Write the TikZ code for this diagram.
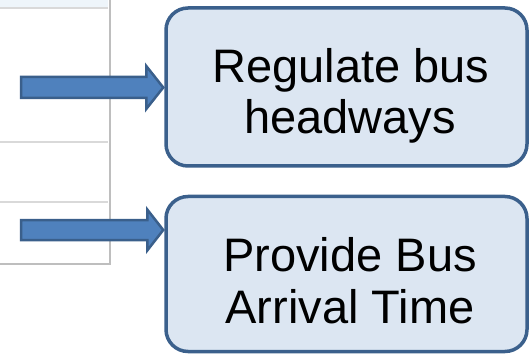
\documentclass[tikz,border=0pt]{standalone}
\usepackage{fontspec}
\setmainfont{Liberation Sans}
\usetikzlibrary{calc}
\definecolor{boxfill}{RGB}{220,230,242}
\definecolor{boxline}{RGB}{59,96,140}
\definecolor{arrfill}{RGB}{79,129,189}
\definecolor{arrline}{RGB}{58,95,139}
\definecolor{gridgrey}{RGB}{217,217,217}
\definecolor{bordergrey}{RGB}{190,190,190}
\definecolor{bandblue}{RGB}{238,245,250}
\tikzset{
  goalbox/.style={draw=boxline, fill=boxfill, line width=3.5pt, rounded corners=22pt,
    minimum width=361pt, inner sep=0pt},
  boxtext/.style={anchor=base, inner sep=0pt, font=\fontsize{47}{52}\selectfont},
  fatarrow/.style={draw=arrline, fill=arrfill, line width=2.5pt, line join=miter},
  gridline/.style={draw=gridgrey, line width=1.2pt},
}
\begin{document}
\begin{tikzpicture}[x=1pt, y=-1pt]
\useasboundingbox (0,0) rectangle (529,355);
% table fragment
\fill[white] (0,0) rectangle (110,264);
\fill[bandblue] (0,0) rectangle (108,7);
\draw[gridline] (0,8) -- (108,8);
\draw[gridline] (0,142) -- (108,142);
\draw[gridline] (0,202) -- (108,202);
\draw[draw=bordergrey, line width=2.5pt] (110,0) -- (110,264) -- (0,264);
% boxes
\node[goalbox, minimum height=158pt] (b1) at (346.5,87) {};
\node[goalbox, minimum height=155pt] (b2) at (346.5,274) {};
\node[boxtext] (r1) at (351,83) {Regulate bus};
\node[boxtext] (r2) at (350,134) {headways};
\node[boxtext] (p1) at (350,271) {Provide Bus};
\node[boxtext] (p2) at (350,323) {Arrival Time};
% arrows
\coordinate (s1) at (21,87.5);
\coordinate (t1) at ($(b1.west |- s1)+(-1,0)$);
\draw[fatarrow] ($(s1)+(0,-10.5)$) -- ($(t1)+(-17,-10.5)$) -- ($(t1)+(-17,-21.5)$) -- (t1)
  -- ($(t1)+(-17,21.5)$) -- ($(t1)+(-17,10.5)$) -- ($(s1)+(0,10.5)$) -- cycle;
\coordinate (s2) at (21,230);
\coordinate (t2) at ($(b2.west |- s2)+(-1,0)$);
\draw[fatarrow] ($(s2)+(0,-10)$) -- ($(t2)+(-16,-10)$) -- ($(t2)+(-16,-20.5)$) -- (t2)
  -- ($(t2)+(-16,20.5)$) -- ($(t2)+(-16,10)$) -- ($(s2)+(0,10)$) -- cycle;
\end{tikzpicture}
\end{document}
